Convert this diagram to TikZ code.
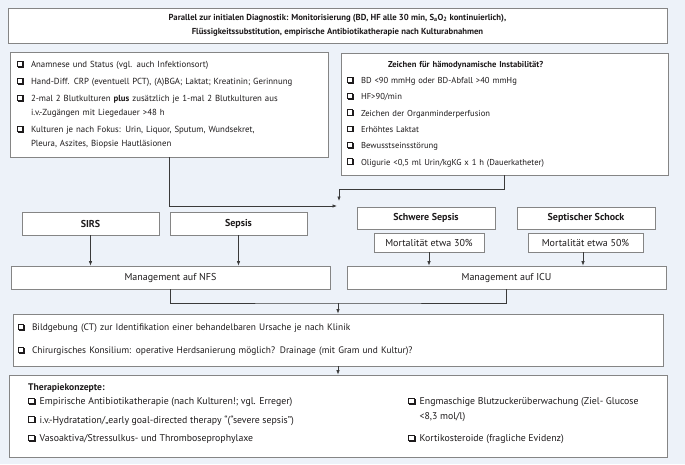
\documentclass[tikz,border=0pt]{standalone}
\usepackage{fontspec}
\setmainfont{PT Sans}
\usetikzlibrary{arrows.meta}
\definecolor{bg}{HTML}{EDF2F9}
\definecolor{bd}{HTML}{858585}
\definecolor{tx}{HTML}{1E1B1C}
\definecolor{ln}{HTML}{3A3A3A}
\newcommand\chkbox{{\setlength\unitlength{1pt}\begin{picture}(7.4,7)(0,0)
  \put(0,0.9){\rule{6pt}{0.65pt}}
  \put(0,6.25){\rule{6pt}{0.65pt}}
  \put(0,0.9){\rule{0.65pt}{6pt}}
  \put(5.35,0.9){\rule{0.65pt}{6pt}}
  \put(1.2,0){\rule{6.2pt}{1.4pt}}
  \put(6,0){\rule{1.4pt}{6.2pt}}
\end{picture}}}
\newcommand\cbx{\makebox[14pt][l]{\chkbox}}
\newcommand\cbxt{\makebox[11.5pt][l]{\chkbox}}
\tikzset{
  box/.style={draw=bd, fill=white, line width=0.8pt, inner sep=0pt, text=tx,
    font=\fontsize{8.8}{14}\selectfont},
  mid/.style={font=\fontsize{10}{12}\selectfont},
  midb/.style={font=\bfseries\fontsize{10}{12}\selectfont},
  arr/.style={draw=ln, line width=0.7pt, -{Latex[length=4.5pt,width=3.5pt]}},
  ln/.style={draw=ln, line width=0.7pt},
  txt/.style={inner sep=0pt, text=tx}
}
\begin{document}
\begin{tikzpicture}[x=1pt,y=-1pt]
\fill[bg] (0,0) rectangle (685,464);
\useasboundingbox (0,0) rectangle (685,464);

\node[box, minimum width=659pt, minimum height=35pt, align=center,
  font=\bfseries\fontsize{8.7}{14}\selectfont] (top) at (337.5,25.5)
  {Parallel zur initialen Diagnostik: Monitorisierung (BD, HF alle 30 min, S\textsubscript{a}O\textsubscript{2} kontinuierlich),\\
   Flüssigkeitssubstitution, empirische Antibiotikatherapie nach Kulturabnahmen};

\node[box, minimum width=318pt, minimum height=105pt, text width=304pt, align=left] (lb) at (169,104.5)
  {\cbx Anamnese und Status (vgl. auch Infektionsort)\\[3pt]
   \cbx Hand-Diff. CRP (eventuell PCT), (A)BGA; Laktat; Kreatinin; Gerinnung\\[3pt]
   \cbx 2-mal 2 Blutkulturen \textbf{plus} zusätzlich je 1-mal 2 Blutkulturen aus\\
   \hspace*{14pt}i.v.-Zugängen mit Liegedauer >48 h\\[3pt]
   \cbx Kulturen je nach Fokus: Urin, Liquor, Sputum, Wundsekret,\\
   \hspace*{14pt}Pleura, Aszites, Biopsie Hautläsionen};

\node[box, minimum width=327pt, minimum height=122pt, text width=315pt, align=left,
  font=\fontsize{8.6}{16.3}\selectfont] (rb) at (504.5,114)
  {\hspace*{41pt}\textbf{Zeichen für hämodynamische Instabilität?}\\
   \cbx BD <90 mmHg oder BD-Abfall >40 mmHg\\
   \cbx HF>90/min\\
   \cbx Zeichen der Organminderperfusion\\
   \cbx Erhöhtes Laktat\\
   \cbx Bewusstseinsstörung\\
   \cbx Oligurie <0,5 ml Urin/kgKG x 1 h (Dauerkatheter)};

\coordinate (jl) at (337,206);
\coordinate (jrtop) at (339,189);
\coordinate (jr) at (339,201);
\draw[arr] (lb.south) |- (jl);
\draw[arr] (rb.south) |- (jrtop) -- (jr);

\node[box, midb, minimum width=137pt, minimum height=23pt] (sirs) at (90.5,223.5) {SIRS};
\node[box, midb, minimum width=137pt, minimum height=23pt] (sepsis) at (238.5,223.5) {Sepsis};
\node[box, midb, minimum width=138pt, minimum height=22pt] (schwer) at (426,218) {Schwere Sepsis};
\node[box, midb, minimum width=138pt, minimum height=22pt] (schock) at (586,218) {Septischer Schock};
\node[box, mid, minimum width=110pt, minimum height=19pt] (m30) at (429,242.5) {Mortalität etwa 30\%};
\node[box, mid, minimum width=115pt, minimum height=19pt] (m50) at (585.5,242.5) {Mortalität etwa 50\%};

\node[box, mid, minimum width=319pt, minimum height=23pt] (nfs) at (170.5,277.5) {Management auf NFS};
\node[box, mid, minimum width=319pt, minimum height=23pt] (icu) at (506.5,277.5) {Management auf ICU};

\draw[arr] (sirs.south) -- (sirs.south |- nfs.north);
\draw[arr] (sepsis.south) -- (sepsis.south |- nfs.north);
\draw[arr] (m30.south) -- (m30.south |- icu.north);
\draw[arr] ([xshift=-2.5pt]m50.south) -- ([xshift=-2.5pt]m50.south |- icu.north);

\node[box, minimum width=650pt, minimum height=52pt, text width=640pt, align=left,
  font=\fontsize{9.4}{23}\selectfont] (bild) at (338,340)
  {\cbx Bildgebung (CT) zur Identifikation einer behandelbaren Ursache je nach Klinik\\
   \cbx Chirurgisches Konsilium: operative Herdsanierung möglich? Drainage (mit Gram und Kultur)?};

\coordinate (jm) at (338,303);
\draw[ln] (nfs.south) |- (jm) -| (icu.south);
\draw[arr] (jm) -- (bild.north);

\node[box, minimum width=658pt, minimum height=82pt] (ther) at (338,416) {};
\draw[arr] (bild.south) -- (ther.north);

\node[txt, anchor=base west, font=\bfseries\fontsize{9.6}{10}\selectfont] (thert) at (28,390) {Therapiekonzepte:};
\node[txt, anchor=north west, align=left, font=\fontsize{9.8}{18.5}\selectfont] (therl) at (28,397.5)
  {\cbxt Empirische Antibiotikatherapie (nach Kulturen!; vgl. Erreger)\\
   \cbxt i.v.-Hydratation/„early goal-directed therapy “(“severe sepsis”)\\
   \cbxt Vasoaktiva/Stressulkus- und Thromboseprophylaxe};
\node[txt, anchor=north west, align=left, font=\fontsize{9.8}{14.5}\selectfont] (therr) at (408,397.5)
  {\cbxt Engmaschige Blutzuckerüberwachung (Ziel- Glucose\\
   \hspace*{11.5pt}<8,3 mol/l)\\[8pt]
   \cbxt Kortikosteroide (fragliche Evidenz)};
\end{tikzpicture}
\end{document}
